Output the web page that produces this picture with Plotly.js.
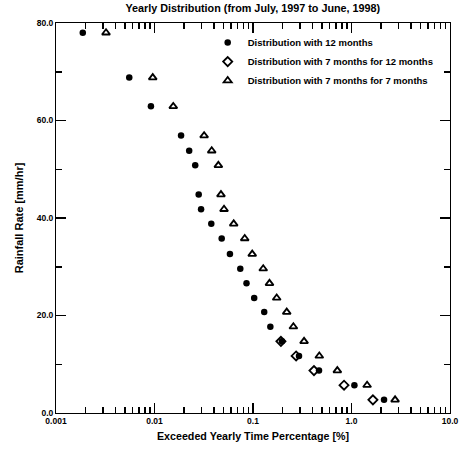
<!DOCTYPE html>
<html>
<head>
<meta charset="utf-8">
<script src="https://cdn.plot.ly/plotly-3.0.1.min.js"></script>
<style>html,body{margin:0;padding:0;background:#fff;}#chart{width:463px;height:450px;}</style>
</head>
<body>
<div id="chart"></div>
<script>
// Rainfall rate levels [mm/hr]
const rate12 = [78.0, 68.8, 62.9, 56.9, 53.8, 50.8, 44.8, 41.8, 38.8, 35.8, 32.6, 29.6, 26.6, 23.6, 20.7, 17.7, 14.7, 11.7, 8.7, 5.7, 2.7];
// Exceeded yearly time percentage [%], 12-month distribution
const pct12 = [0.00187, 0.00554, 0.0092, 0.0186, 0.0225, 0.0259, 0.0281, 0.0297, 0.0377, 0.0481, 0.0583, 0.0743, 0.0859, 0.1028, 0.130, 0.150, 0.197, 0.293, 0.468, 1.07, 2.14];
// 7 months for 12 months (visible points)
const rate7for12 = [14.7, 11.7, 8.7, 5.7, 2.7];
const pct7for12 = [0.192, 0.274, 0.416, 0.84, 1.65];
// 7 months for 7 months
const rate7for7 = [78.0, 68.8, 62.9, 56.9, 53.8, 50.8, 44.8, 41.8, 38.8, 35.8, 32.6, 29.6, 26.6, 23.6, 20.7, 17.7, 14.7, 11.7, 8.7, 5.7, 2.7];
const pct7for7 = [0.00322, 0.0096, 0.0155, 0.0319, 0.0381, 0.0445, 0.0473, 0.0508, 0.0637, 0.0824, 0.0982, 0.127, 0.147, 0.174, 0.220, 0.257, 0.330, 0.471, 0.718, 1.44, 2.77];

const xTickVals = [0.001, 0.01, 0.1, 1, 10];
const xTickText = ["0.001", "0.01", "0.1", "1.0", "10.0"];
const yTickVals = [0, 20, 40, 60, 80];
const yTickText = ["0.0", "20.0", "40.0", "60.0", "80.0"];

const FONT = "Liberation Sans, Arial, sans-serif";
const bold = t => '<b>' + t + '</b>';

const traces = [
  {x: pct12, y: rate12, type: 'scatter', mode: 'markers', name: bold('Distribution with 12 months'),
   marker: {symbol: 'circle', size: 6.5, color: '#000'}},
  {x: pct7for12, y: rate7for12, type: 'scatter', mode: 'markers', name: bold('Distribution with 7 months for 12 months'),
   marker: {symbol: 'diamond-open', size: 7, color: '#000', line: {width: 1.8, color: '#000'}}},
  {x: pct7for7, y: rate7for7, type: 'scatter', mode: 'markers', name: bold('Distribution with 7 months for 7 months'),
   marker: {symbol: 'triangle-up-open', size: 7, color: '#000', line: {width: 1.8, color: '#000'}}}
];

const layout = {
  width: 463, height: 450,
  margin: {l: 56, r: 13, t: 23, b: 37},
  font: {family: FONT, color: '#000', size: 8},
  title: {text: bold('Yearly Distribution (from July, 1997 to June, 1998)'), font: {size: 10.8, family: FONT},
          x: 0.546, xanchor: 'center', y: 0.982, yanchor: 'middle', yref: 'container'},
  showlegend: true,
  legend: {x: 0.385, xanchor: 'left', y: 0.987, yanchor: 'top', bgcolor: 'rgba(0,0,0,0)',
           font: {size: 9.5, family: FONT}, tracegroupgap: 2},
  xaxis: {type: 'log', range: [-3, 1], showgrid: false,
          showline: true, linecolor: '#000', mirror: 'ticks',
          ticks: 'inside', ticklen: 10, tickwidth: 1.5, tickcolor: '#000',
          tickvals: xTickVals, ticktext: xTickText.map(bold), tickfont: {size: 8.5},
          minor: {ticks: 'inside', ticklen: 6, tickwidth: 1.5, tickcolor: '#000', dtick: 'D1', showgrid: false},
          title: {text: bold('Exceeded Yearly Time Percentage [%]'), font: {size: 10.7}, standoff: 7}},
  yaxis: {range: [0, 80], showgrid: false,
          showline: true, linecolor: '#000', mirror: 'ticks',
          ticks: 'inside', ticklen: 10, tickwidth: 1.5, tickcolor: '#000',
          tickvals: yTickVals, ticktext: yTickText.map(bold), tickfont: {size: 8.5},
          minor: {ticks: 'inside', ticklen: 6, tickwidth: 1.5, tickcolor: '#000', dtick: 10, showgrid: false},
          title: {text: bold('Rainfall Rate [mm/hr]'), font: {size: 11}, standoff: 10}}
};

Plotly.newPlot('chart', traces, layout, {staticPlot: true});
</script>
</body>
</html>
